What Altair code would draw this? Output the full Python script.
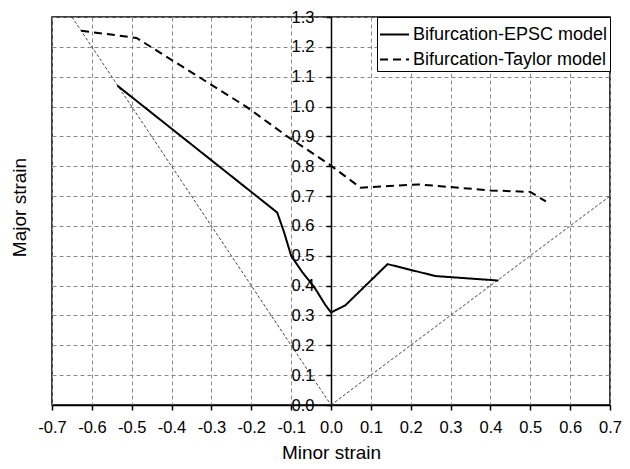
import altair as alt
import pandas as pd

# EPSC bifurcation curve
epsc_x = [-0.536, -0.135, -0.118, -0.100, -0.072, -0.042, -0.014, 0.0, 0.036, 0.142, 0.262, 0.420]
epsc_y = [1.070, 0.645, 0.580, 0.500, 0.445, 0.395, 0.335, 0.310, 0.334, 0.472, 0.432, 0.417]

# Taylor bifurcation curve
taylor_x = [-0.627, -0.488, -0.212, -0.110, -0.003, 0.074, 0.220, 0.400, 0.500, 0.539]
taylor_y = [1.254, 1.230, 0.999, 0.900, 0.805, 0.728, 0.739, 0.719, 0.714, 0.682]

# reference strain paths
left_path_x = [-0.65, 0.0]
left_path_y = [1.30, 0.0]
right_path_x = [0.0, 0.70]
right_path_y = [0.0, 0.70]

x_ticks = [-0.7, -0.6, -0.5, -0.4, -0.3, -0.2, -0.1, 0.0, 0.1, 0.2, 0.3, 0.4, 0.5, 0.6, 0.7]
y_ticks = [0.0, 0.1, 0.2, 0.3, 0.4, 0.5, 0.6, 0.7, 0.8, 0.9, 1.0, 1.1, 1.2, 1.3]

series_names = ["Bifurcation-EPSC model", "Bifurcation-Taylor model"]

curves = pd.DataFrame({
    "x": epsc_x + taylor_x,
    "y": epsc_y + taylor_y,
    "series": [series_names[0]] * len(epsc_x) + [series_names[1]] * len(taylor_x),
    "order": list(range(len(epsc_x))) + list(range(len(taylor_x))),
})
paths = pd.DataFrame({
    "x": left_path_x + right_path_x,
    "y": left_path_y + right_path_y,
    "path": ["left"] * 2 + ["right"] * 2,
})

FONT = "Liberation Sans"
label_expr = "(datum.value < -0.0001 ? '-' : '') + format(abs(datum.value), '.1f')"

xscale = alt.Scale(domain=[-0.7, 0.7], nice=False, zero=False)
yscale = alt.Scale(domain=[0.0, 1.3], nice=False, zero=False)

x_axis = alt.Axis(
    values=x_ticks, labelExpr=label_expr, title="Minor strain",
    grid=True, gridColor="#8a8a8a", gridDash=[4, 3], gridWidth=1,
    labelOverlap=False, labelFlush=False, labelBound=False,
    domainColor="black", domainWidth=1.5, tickColor="black", tickWidth=1.5, tickSize=5,
    labelFont=FONT, labelFontSize=16.5, labelColor="black", labelPadding=9,
    titleFont=FONT, titleFontSize=19, titleFontWeight="normal", titleColor="black",
    titlePadding=8,
)
y_axis = alt.Axis(
    values=y_ticks, labelExpr=label_expr, title="Major strain",
    grid=True, gridColor="#8a8a8a", gridDash=[4, 3], gridWidth=1,
    labelOverlap=False, labelFlush=False, labelBound=False,
    offset=-279,
    domainColor="black", domainWidth=1.5, tickColor="black", tickWidth=1.5, tickSize=5,
    labelFont=FONT, labelFontSize=16.5, labelColor="black", labelPadding=12,
    titleFont=FONT, titleFontSize=19, titleFontWeight="normal", titleColor="black",
    titleX=-312, titleY=190, titleAngle=-90, titleAlign="center", titleBaseline="middle",
)

X = alt.X("x:Q", scale=xscale, axis=x_axis)
Y = alt.Y("y:Q", scale=yscale, axis=y_axis)

path_layer = alt.Chart(paths).mark_line(
    color="#444444", strokeWidth=1, strokeDash=[3, 2]
).encode(x=X, y=Y, detail="path:N")

curve_layer = alt.Chart(curves).mark_line(color="black", strokeWidth=2).encode(
    x=X,
    y=Y,
    order="order:Q",
    strokeDash=alt.StrokeDash(
        "series:N",
        scale=alt.Scale(domain=series_names, range=[[1, 0], [8, 5]]),
        legend=alt.Legend(
            title=None, orient="top-right", offset=0,
            strokeColor="black", fillColor="white", padding=2,
            symbolType="stroke", symbolSize=841, symbolStrokeWidth=2,
            symbolStrokeColor="black",
            labelFont=FONT, labelFontSize=18, labelColor="black", labelLimit=0,
            labelOffset=3, rowPadding=0,
        ),
    ),
)

chart = alt.layer(path_layer, curve_layer).properties(
    width=558, height=388,
    autosize=alt.AutoSizeParams(type="none"),
    padding={"left": 44, "top": 9, "right": 12, "bottom": 62},
    background="white",
).configure_view(stroke="black", strokeWidth=1.5)

chart.save("out.html", embed_options={"renderer": "svg", "actions": False})
